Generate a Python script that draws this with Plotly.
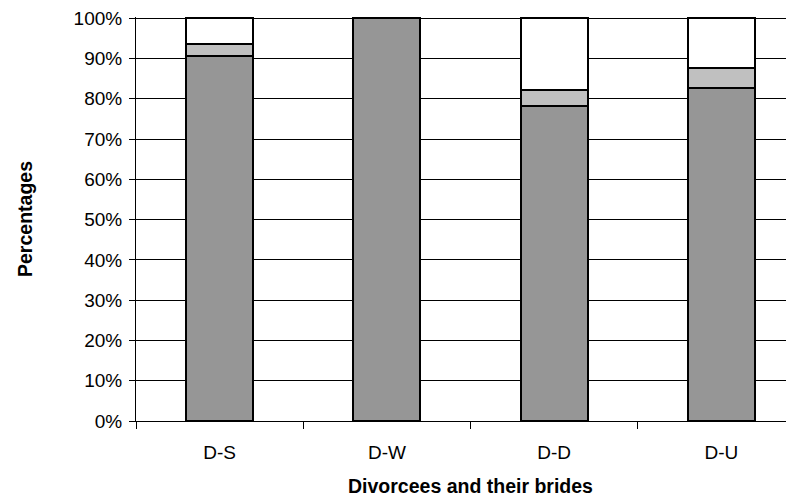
import plotly.graph_objects as go

categories = ["D-S", "D-W", "D-D", "D-U"]
dark_vals = [90.6, 100.0, 78.3, 82.6]
light_vals = [3.0, 0.0, 4.0, 5.0]
white_vals = [6.4, 0.0, 17.7, 12.4]
y_ticks = [0, 10, 20, 30, 40, 50, 60, 70, 80, 90, 100]
y_tick_labels = [f"{v}%" for v in y_ticks]

FONT = "Liberation Sans, Arial, sans-serif"

fig = go.Figure()
for vals, col in [(dark_vals, "#969696"), (light_vals, "#C0C0C0"), (white_vals, "#FFFFFF")]:
    fig.add_trace(go.Bar(
        x=categories, y=vals,
        marker=dict(color=col, line=dict(color="black", width=2)),
        showlegend=False, hoverinfo="skip",
    ))

fig.update_layout(
    barmode="stack",
    bargap=0.6,
    width=786, height=489,
    margin=dict(l=128, r=0, t=6, b=76),
    paper_bgcolor="white", plot_bgcolor="white",
    font=dict(family=FONT, size=19, color="black"),
    xaxis=dict(
        range=[-0.5, 3.434],
        showline=True, linecolor="black", linewidth=1,
        ticks="outside", tickson="boundaries", ticklen=7, tickcolor="black",
        ticklabelstandoff=14,
        showgrid=False, zeroline=False,
        tickfont=dict(size=19),
    ),
    yaxis=dict(
        range=[0, 100.3], tickmode="array", tickvals=y_ticks, ticktext=y_tick_labels,
        showline=True, linecolor="black", linewidth=1,
        ticks="outside", ticklen=6, tickcolor="black",
        showgrid=True, gridcolor="black", gridwidth=1,
        zeroline=False, tickfont=dict(size=19),
        ticklabelstandoff=3, ticklabeloverflow="allow",
    ),
    annotations=[
        dict(text="<b>Percentages</b>", xref="paper", yref="paper",
             x=-0.1687, y=0.5, textangle=-90, showarrow=False,
             font=dict(size=19.5, family=FONT), xanchor="center", yanchor="middle"),
        dict(text="<b>Divorcees and their brides</b>", xref="paper", yref="paper",
             x=0.5076, y=-0.16, showarrow=False,
             font=dict(size=19.5, family=FONT), xanchor="center", yanchor="middle"),
    ],
)

fig.write_html("out.html")
